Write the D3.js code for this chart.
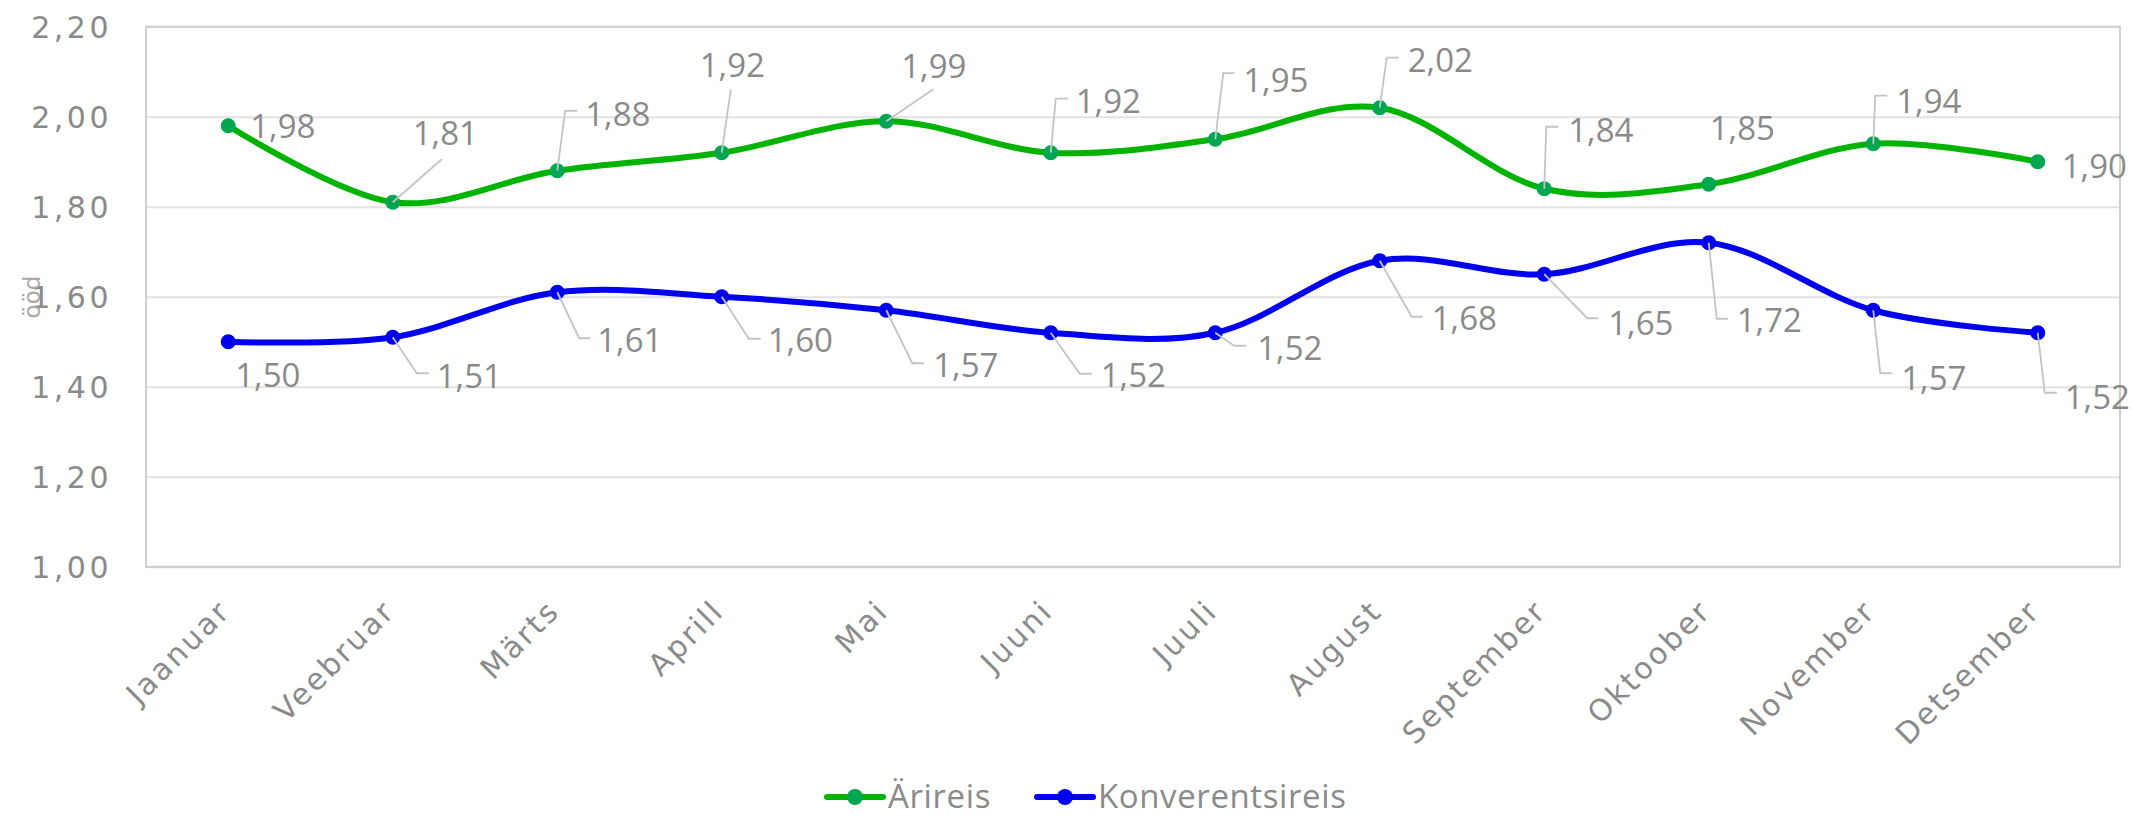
<!DOCTYPE html>
<html>
<head>
<meta charset="utf-8">
<script src="https://cdnjs.cloudflare.com/ajax/libs/d3/7.8.5/d3.min.js"></script>
<style>
  body { margin: 0; background: #fff; }
  svg { display: block; }
</style>
</head>
<body>
<svg class="svg"></svg>
<script>
const months = ["Jaanuar", "Veebruar", "Märts", "Aprill", "Mai", "Juuni",
  "Juuli", "August", "September", "Oktoober", "November", "Detsember"];
const arireis = [1.98, 1.81, 1.88, 1.92, 1.99, 1.92, 1.95, 2.02, 1.84, 1.85, 1.94, 1.90];
const konverentsireis = [1.50, 1.51, 1.61, 1.60, 1.57, 1.52, 1.52, 1.68, 1.65, 1.72, 1.57, 1.52];
const yTicks = [1.0, 1.2, 1.4, 1.6, 1.8, 2.0, 2.2];
const seriesNames = ["Ärireis", "Konverentsireis"];
const axisTitle = "ööd";

// where each value label sits relative to its point (px), and its leader line
const greenLabels = [
  { dx: 22, dy: 12 },
  { dx: 20, dy: -57, lead: [[0, 0], [49, -43]] },
  { dx: 28, dy: -45, lead: [[0, 0], [8, -60], [20, -60]] },
  { dx: -22, dy: -76, lead: [[0, 0], [9, -63]] },
  { dx: 15, dy: -43, lead: [[0, 0], [47, -32]] },
  { dx: 25, dy: -40, lead: [[0, 0], [5, -54], [17, -54]] },
  { dx: 28, dy: -47, lead: [[0, 0], [8, -66], [19, -66]] },
  { dx: 28, dy: -36, lead: [[0, 0], [7, -50], [19, -50]] },
  { dx: 24, dy: -47, lead: [[0, 0], [2, -62], [14, -62]] },
  { dx: 1, dy: -44 },
  { dx: 23, dy: -31, lead: [[0, 0], [2, -48], [14, -48]] },
  { dx: 24, dy: 16 }
];
const blueLabels = [
  { dx: 7, dy: 45 },
  { dx: 44, dy: 51, lead: [[0, 0], [24, 36], [36, 36]] },
  { dx: 40, dy: 60, lead: [[0, 0], [22, 46], [33, 46]] },
  { dx: 46, dy: 55, lead: [[0, 0], [27, 42], [39, 42]] },
  { dx: 47, dy: 67, lead: [[0, 0], [26, 53], [38, 53]] },
  { dx: 50, dy: 54, lead: [[0, 0], [29, 41], [41, 41]] },
  { dx: 42, dy: 27, lead: [[0, 0], [19, 13], [31, 13]] },
  { dx: 52, dy: 69, lead: [[0, 0], [32, 56], [43, 56]] },
  { dx: 64, dy: 61, lead: [[0, 0], [43, 44], [54, 44]] },
  { dx: 28, dy: 89, lead: [[0, 0], [8, 76], [19, 76]] },
  { dx: 28, dy: 80, lead: [[0, 0], [7, 63], [19, 63]] },
  { dx: 27, dy: 76, lead: [[0, 0], [7, 60], [19, 60]] }
];

const W = 2131, H = 820;
const plot = { left: 146, right: 2120, top: 26.7, bottom: 566.8 };
const grey = "#8a8a8a";
const tickFont = "'DejaVu Sans', sans-serif";
const labelFont = "'Open Sans', sans-serif";

const svg = d3.select(".svg").attr("width", W).attr("height", H);

const x = d3.scalePoint().domain(months).range([plot.left, plot.right]).padding(0.5);
const y = d3.scaleLinear().domain([1, 2.2]).range([plot.bottom, plot.top]);
const fmt = v => d3.format(".2f")(v).replace(".", ",");

// gridlines
svg.append("g")
  .attr("transform", `translate(${plot.left},0)`)
  .call(d3.axisLeft(y).tickValues(yTicks).tickSize(-(plot.right - plot.left)).tickFormat(""))
  .call(g => g.select(".domain").remove())
  .call(g => g.selectAll("line").attr("stroke", "#e2e2e2").attr("stroke-width", 2));

svg.append("rect")
  .attr("x", plot.left).attr("y", plot.top)
  .attr("width", plot.right - plot.left).attr("height", plot.bottom - plot.top)
  .attr("fill", "none").attr("stroke", "#cfcfcf").attr("stroke-width", 2);

// y tick labels
svg.append("g").selectAll("text").data(yTicks).join("text")
  .attr("x", 112).attr("y", d => y(d))
  .attr("dy", "0.36em")
  .attr("text-anchor", "end")
  .attr("font-family", tickFont).attr("font-size", 30)
  .attr("letter-spacing", 3.5)
  .attr("fill", grey)
  .text(fmt);

svg.append("text")
  .attr("transform", `translate(40,297) rotate(-90)`)
  .attr("text-anchor", "middle")
  .attr("font-family", tickFont).attr("font-size", 23)
  .attr("fill", "#a8a8a8")
  .text(axisTitle);

// x labels
svg.append("g").selectAll("text").data(months).join("text")
  .attr("transform", d => `translate(${x(d) + 4},${plot.bottom + 46}) rotate(-45)`)
  .attr("text-anchor", "end")
  .attr("font-family", tickFont).attr("font-size", 30)
  .attr("letter-spacing", 2.5)
  .attr("fill", grey)
  .text(d => d);

const line = d3.line()
  .x((d, i) => x(months[i]))
  .y(d => y(d))
  .curve(d3.curveCardinal.tension(0));

function drawSeries(values, lineColor, dotColor, labels) {
  const g = svg.append("g");
  g.append("path").datum(values)
    .attr("d", line)
    .attr("fill", "none").attr("stroke", lineColor)
    .attr("stroke-width", 6).attr("stroke-linecap", "round");
  g.selectAll("circle").data(values).join("circle")
    .attr("cx", (d, i) => x(months[i])).attr("cy", d => y(d))
    .attr("r", 7.5).attr("fill", dotColor);
  g.selectAll("path.lead").data(values).join("path")
    .attr("class", "lead")
    .attr("d", (d, i) => {
      const l = labels[i];
      if (!l.lead) return null;
      const px = x(months[i]), py = y(d);
      return "M" + l.lead.map(p => [px + p[0], py + p[1]].join(",")).join("L");
    })
    .attr("fill", "none").attr("stroke", "#c4c4c4").attr("stroke-width", 1.8);
  g.selectAll("text").data(values).join("text")
    .attr("x", (d, i) => x(months[i]) + labels[i].dx)
    .attr("y", (d, i) => y(d) + labels[i].dy)
    .attr("font-family", labelFont).attr("font-size", 33)
    .attr("fill", grey)
    .text(fmt);
}

drawSeries(arireis, "#00b300", "#00a650", greenLabels);
drawSeries(konverentsireis, "#0000ee", "#0000ee", blueLabels);

// legend
const legend = [
  { name: seriesNames[0], line: "#00b300", dot: "#00a650", x: 827 },
  { name: seriesNames[1], line: "#0000ee", dot: "#0000ee", x: 1037 }
];
const lg = svg.append("g").selectAll("g").data(legend).join("g")
  .attr("transform", d => `translate(${d.x},797)`);
lg.append("line").attr("x1", 0).attr("x2", 56)
  .attr("stroke", d => d.line).attr("stroke-width", 6).attr("stroke-linecap", "round");
lg.append("circle").attr("cx", 28).attr("r", 8).attr("fill", d => d.dot);
lg.append("text").attr("x", 61).attr("dy", "0.34em")
  .attr("font-family", labelFont).attr("font-size", 33)
  .attr("letter-spacing", 0.6)
  .attr("fill", grey)
  .text(d => d.name);
</script>
</body>
</html>
